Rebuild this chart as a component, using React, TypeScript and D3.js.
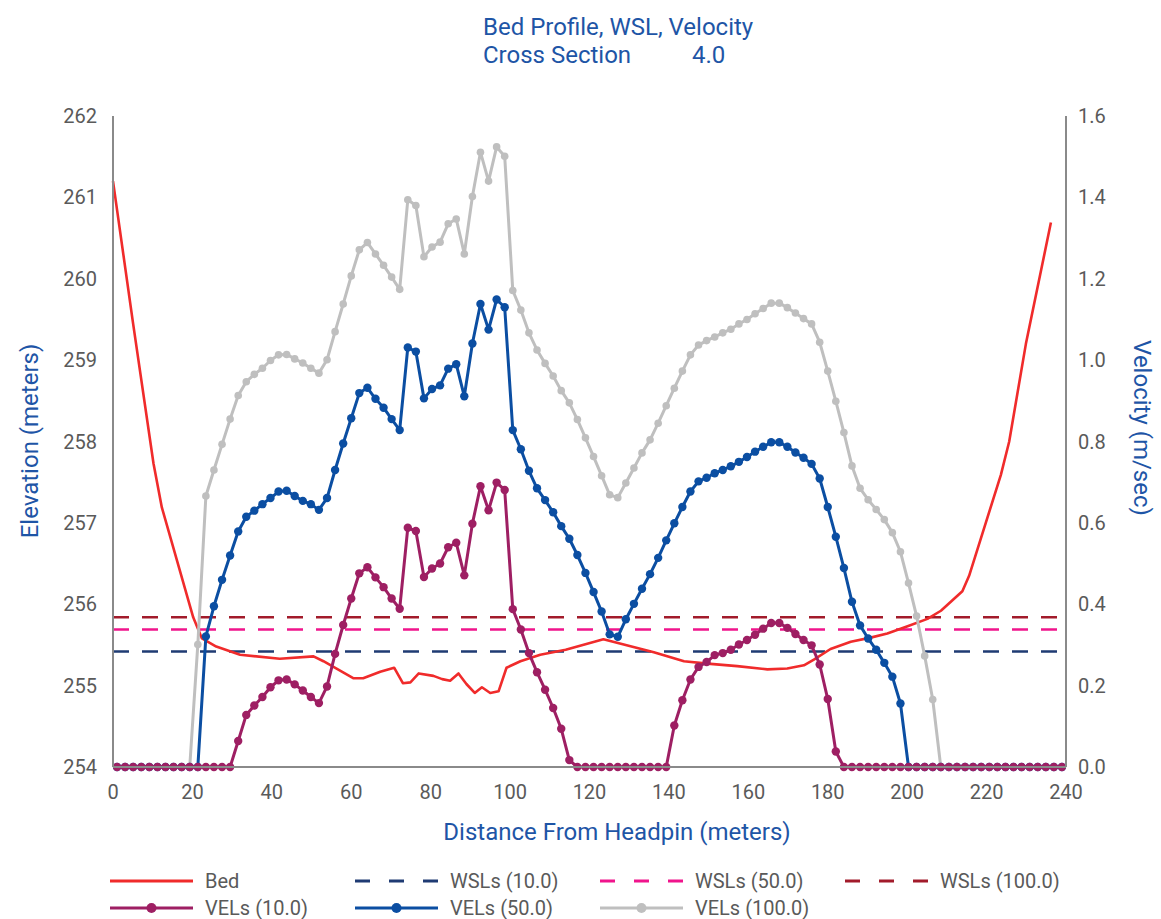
import React from 'react';
import * as d3 from 'd3';

// ---------------- DATA ----------------
const chartTitle = 'Bed Profile, WSL, Velocity';
const sectionLabel = 'Cross Section';
const sectionValue = '4.0';
const xAxisTitle = 'Distance From Headpin (meters)';
const yLeftTitle = 'Elevation (meters)';
const yRightTitle = 'Velocity (m/sec)';

const distTicks = [0, 20, 40, 60, 80, 100, 120, 140, 160, 180, 200, 220, 240];
const elevTicks = [254, 255, 256, 257, 258, 259, 260, 261, 262];
const velTicks = [0, 0.2, 0.4, 0.6, 0.8, 1.0, 1.2, 1.4, 1.6];

// Ground (bed) profile
const bedDist = [0, 5, 10.2, 12.3, 20.2, 22.4, 26, 32, 42, 50.5, 53, 60.6, 63, 67.3, 70.8, 73.0, 74.9, 77.0, 80.7, 82.9, 84.9, 87.0, 89.0, 91.1, 92.9, 95.0, 97.1, 99.1, 102.6, 107.6, 114, 123.5, 136.2, 143.8, 149.7, 157.2, 164.8, 169.8, 174.0, 176.5, 180.7, 185.8, 190.8, 195.0, 200.1, 205.1, 208.5, 213.9, 215.6, 223.6, 225.7, 229.9, 236.2];
const bedElev = [261.2, 259.47, 257.73, 257.19, 255.84, 255.58, 255.48, 255.38, 255.33, 255.36, 255.30, 255.09, 255.09, 255.17, 255.22, 255.03, 255.04, 255.15, 255.12, 255.08, 255.06, 255.15, 255.02, 254.91, 254.98, 254.91, 254.93, 255.22, 255.30, 255.38, 255.44, 255.57, 255.41, 255.30, 255.27, 255.24, 255.20, 255.21, 255.25, 255.32, 255.45, 255.54, 255.59, 255.64, 255.73, 255.82, 255.92, 256.16, 256.35, 257.59, 258.00, 259.20, 260.69];

// Water surface levels
const wslNames = ['WSLs (10.0)', 'WSLs (50.0)', 'WSLs (100.0)'];
const wslElev = [255.42, 255.69, 255.84];

// Velocity stations (m)
const velStations = [
  1.02, 3.05, 5.08, 7.12, 9.15, 11.19, 13.22, 15.25, 17.29, 19.32,
  21.36, 23.39, 25.42, 27.46, 29.49, 31.53, 33.56, 35.59, 37.63, 39.66,
  41.69, 43.73, 45.76, 47.80, 49.83, 51.86, 53.90, 55.93, 57.97, 60.00,
  62.03, 64.07, 66.10, 68.14, 70.17, 72.20, 74.24, 76.27, 78.31, 80.34,
  82.37, 84.41, 86.44, 88.47, 90.51, 92.54, 94.58, 96.61, 98.64, 100.68,
  102.71, 104.75, 106.78, 108.81, 110.85, 112.88, 114.92, 116.95, 118.98, 121.02,
  123.05, 125.08, 127.12, 129.15, 131.19, 133.22, 135.25, 137.29, 139.32, 141.36,
  143.39, 145.42, 147.46, 149.49, 151.53, 153.56, 155.59, 157.63, 159.66, 161.69,
  163.73, 165.76, 167.80, 169.83, 171.86, 173.90, 175.93, 177.97, 180.00, 182.03,
  184.07, 186.10, 188.14, 190.17, 192.20, 194.24, 196.27, 198.31, 200.34, 202.37,
  204.41, 206.44, 208.47, 210.51, 212.54, 214.58, 216.61, 218.64, 220.68, 222.71,
  224.75, 226.78, 228.81, 230.85, 232.88, 234.92, 236.95, 238.98,
];

const vel10 = [
  0, 0, 0, 0, 0, 0, 0, 0, 0, 0,
  0, 0, 0, 0, 0, 0.064, 0.128, 0.151, 0.172, 0.196,
  0.213, 0.215, 0.203, 0.188, 0.172, 0.157, 0.198, 0.278, 0.349, 0.414,
  0.476, 0.491, 0.466, 0.442, 0.414, 0.389, 0.588, 0.580, 0.467, 0.488,
  0.500, 0.540, 0.551, 0.471, 0.598, 0.690, 0.631, 0.699, 0.681, 0.388,
  0.338, 0.280, 0.233, 0.190, 0.145, 0.094, 0.017, 0, 0, 0,
  0, 0, 0, 0, 0, 0, 0, 0, 0, 0.102,
  0.164, 0.215, 0.246, 0.258, 0.275, 0.280, 0.288, 0.301, 0.312, 0.325,
  0.340, 0.354, 0.354, 0.342, 0.327, 0.312, 0.299, 0.252, 0.167, 0.038,
  0, 0, 0, 0, 0, 0, 0, 0, 0, 0,
  0, 0, 0, 0, 0, 0, 0, 0, 0, 0,
  0, 0, 0, 0, 0, 0, 0, 0,
];

const vel50 = [
  0, 0, 0, 0, 0, 0, 0, 0, 0, 0,
  0, 0.321, 0.395, 0.460, 0.520, 0.579, 0.615, 0.630, 0.646, 0.661,
  0.677, 0.679, 0.666, 0.654, 0.646, 0.632, 0.661, 0.730, 0.795, 0.857,
  0.919, 0.932, 0.905, 0.883, 0.855, 0.828, 1.031, 1.021, 0.906, 0.929,
  0.938, 0.979, 0.990, 0.911, 1.041, 1.138, 1.075, 1.149, 1.130, 0.828,
  0.781, 0.728, 0.685, 0.656, 0.626, 0.592, 0.561, 0.521, 0.477, 0.430,
  0.382, 0.326, 0.320, 0.363, 0.401, 0.438, 0.474, 0.514, 0.557, 0.599,
  0.639, 0.677, 0.702, 0.711, 0.722, 0.730, 0.739, 0.750, 0.762, 0.775,
  0.787, 0.798, 0.798, 0.787, 0.773, 0.760, 0.745, 0.709, 0.639, 0.566,
  0.489, 0.406, 0.348, 0.316, 0.288, 0.256, 0.222, 0.156, 0, 0,
  0, 0, 0, 0, 0, 0, 0, 0, 0, 0,
  0, 0, 0, 0, 0, 0, 0, 0,
];

const vel100 = [
  0, 0, 0, 0, 0, 0, 0, 0, 0, 0,
  0.301, 0.666, 0.730, 0.793, 0.855, 0.913, 0.947, 0.965, 0.980, 0.999,
  1.013, 1.014, 1.003, 0.993, 0.980, 0.968, 1.001, 1.070, 1.138, 1.207,
  1.271, 1.289, 1.261, 1.233, 1.204, 1.174, 1.394, 1.380, 1.254, 1.278,
  1.290, 1.335, 1.347, 1.261, 1.402, 1.511, 1.440, 1.524, 1.501, 1.171,
  1.123, 1.067, 1.025, 0.992, 0.961, 0.925, 0.895, 0.854, 0.809, 0.763,
  0.716, 0.669, 0.662, 0.698, 0.735, 0.772, 0.804, 0.845, 0.888, 0.931,
  0.973, 1.013, 1.037, 1.048, 1.057, 1.067, 1.076, 1.089, 1.100, 1.114,
  1.127, 1.140, 1.140, 1.129, 1.116, 1.102, 1.089, 1.044, 0.973, 0.899,
  0.822, 0.740, 0.685, 0.657, 0.633, 0.608, 0.576, 0.529, 0.452, 0.371,
  0.273, 0.166, 0, 0, 0, 0, 0, 0, 0, 0,
  0, 0, 0, 0, 0, 0, 0, 0,
];

const velNames = ['VELs (10.0)', 'VELs (50.0)', 'VELs (100.0)'];
const bedName = 'Bed';

// ---------------- STYLE ----------------
const FONT = 'Roboto, "Noto Sans", Arial, sans-serif';
const C_TITLE = '#1e55a6';
const C_TICK = '#5a5a5a';
const C_AXIS = '#8a8a8a';
const C_BED = '#f02b2b';
const C_WSL = ['#1f3b73', '#f0148c', '#a21b2b'];
const C_VEL = ['#9e1f63', '#0b4ea2', '#bfbfbf'];
const DASH = '16,13';

const W = 1161;
const H = 919;
const PL = 113, PR = 1066, PT = 116, PB = 767;

export default function App() {
  const x = d3.scaleLinear().domain([0, 240]).range([PL, PR]);
  const yE = d3.scaleLinear().domain([254, 262]).range([PB, PT]);
  const yV = d3.scaleLinear().domain([0, 1.6]).range([PB, PT]);

  const bedLine = d3.line<number>()
    .x((_, i) => x(bedDist[i]))
    .y((d) => yE(d));

  const velLine = d3.line<number>()
    .x((_, i) => x(velStations[i]))
    .y((d) => yV(d));

  const velSeries = [vel10, vel50, vel100];
  const drawOrder = [2, 1, 0];

  const legendCols = [110, 355, 600, 845];
  const legendRows = [881, 908];
  const legendItems: { name: string; kind: string; color: string; col: number; row: number }[] = [
    { name: bedName, kind: 'solid', color: C_BED, col: 0, row: 0 },
    { name: wslNames[0], kind: 'dash', color: C_WSL[0], col: 1, row: 0 },
    { name: wslNames[1], kind: 'dash', color: C_WSL[1], col: 2, row: 0 },
    { name: wslNames[2], kind: 'dash', color: C_WSL[2], col: 3, row: 0 },
    { name: velNames[0], kind: 'marker', color: C_VEL[0], col: 0, row: 1 },
    { name: velNames[1], kind: 'marker', color: C_VEL[1], col: 1, row: 1 },
    { name: velNames[2], kind: 'marker', color: C_VEL[2], col: 2, row: 1 },
  ];
  const symLen = 83;

  return (
    <svg width={W} height={H} style={{ position: 'absolute', left: 0, top: 0, background: '#fff' }} fontFamily={FONT}>
      {/* Title */}
      <text x={483} y={27} dy="0.35em" fontSize={24} fill={C_TITLE}>{chartTitle}</text>
      <text x={483} y={55} dy="0.35em" fontSize={24} fill={C_TITLE}>{sectionLabel}</text>
      <text x={692} y={55} dy="0.35em" fontSize={24} fill={C_TITLE}>{sectionValue}</text>

      {/* WSL lines */}
      {wslElev.map((e, i) => (
        <line key={'w' + i} x1={x(0)} x2={x(240)} y1={yE(e)} y2={yE(e)} stroke={C_WSL[i]} strokeWidth={2.5} strokeDasharray={DASH} />
      ))}

      {/* Bed */}
      <path d={bedLine(bedElev) || ''} fill="none" stroke={C_BED} strokeWidth={2.6} strokeLinejoin="round" />

      {/* Velocities */}
      {drawOrder.map((si) => (
        <g key={'v' + si}>
          <path d={velLine(velSeries[si]) || ''} fill="none" stroke={C_VEL[si]} strokeWidth={3} strokeLinejoin="round" />
          {velSeries[si].map((v, i) => (
            <circle key={i} cx={x(velStations[i])} cy={yV(v)} r={si === 2 ? 3.8 : 4.2} fill={C_VEL[si]} />
          ))}
        </g>
      ))}

      {/* Axes */}
      <line x1={PL} x2={PL} y1={PT} y2={PB} stroke={C_AXIS} strokeWidth={2} />
      <line x1={PR} x2={PR} y1={PT} y2={PB} stroke={C_AXIS} strokeWidth={2} />
      <line x1={PL} x2={PR} y1={PB} y2={PB} stroke={C_AXIS} strokeWidth={2} />

      {elevTicks.map((t) => (
        <text key={'e' + t} x={97} y={yE(t)} dy="0.35em" textAnchor="end" fontSize={20} fill={C_TICK}>{t}</text>
      ))}
      {velTicks.map((t) => (
        <text key={'r' + t} x={1078} y={yV(t)} dy="0.35em" textAnchor="start" fontSize={20} fill={C_TICK}>{t.toFixed(1)}</text>
      ))}
      {distTicks.map((t) => (
        <text key={'d' + t} x={x(t)} y={792} dy="0.35em" textAnchor="middle" fontSize={20} fill={C_TICK}>{t}</text>
      ))}

      {/* Axis titles */}
      <text x={617} y={832} dy="0.35em" textAnchor="middle" fontSize={24} fill={C_TITLE}>{xAxisTitle}</text>
      <text transform={`translate(30,441) rotate(-90)`} dy="0.35em" textAnchor="middle" fontSize={24} fill={C_TITLE}>{yLeftTitle}</text>
      <text transform={`translate(1142,428) rotate(90)`} dy="0.35em" textAnchor="middle" fontSize={24} fill={C_TITLE}>{yRightTitle}</text>

      {/* Legend */}
      {legendItems.map((it, i) => {
        const x0 = legendCols[it.col];
        const yy = legendRows[it.row];
        return (
          <g key={'l' + i}>
            <line x1={x0} x2={x0 + symLen} y1={yy} y2={yy} stroke={it.color} strokeWidth={3}
              strokeDasharray={it.kind === 'dash' ? '15,19' : undefined} />
            {it.kind === 'marker' && <circle cx={x0 + symLen / 2} cy={yy} r={5} fill={it.color} />}
            <text x={x0 + symLen + 12} y={yy} dy="0.35em" fontSize={20} fill={C_TICK}>{it.name}</text>
          </g>
        );
      })}
    </svg>
  );
}
